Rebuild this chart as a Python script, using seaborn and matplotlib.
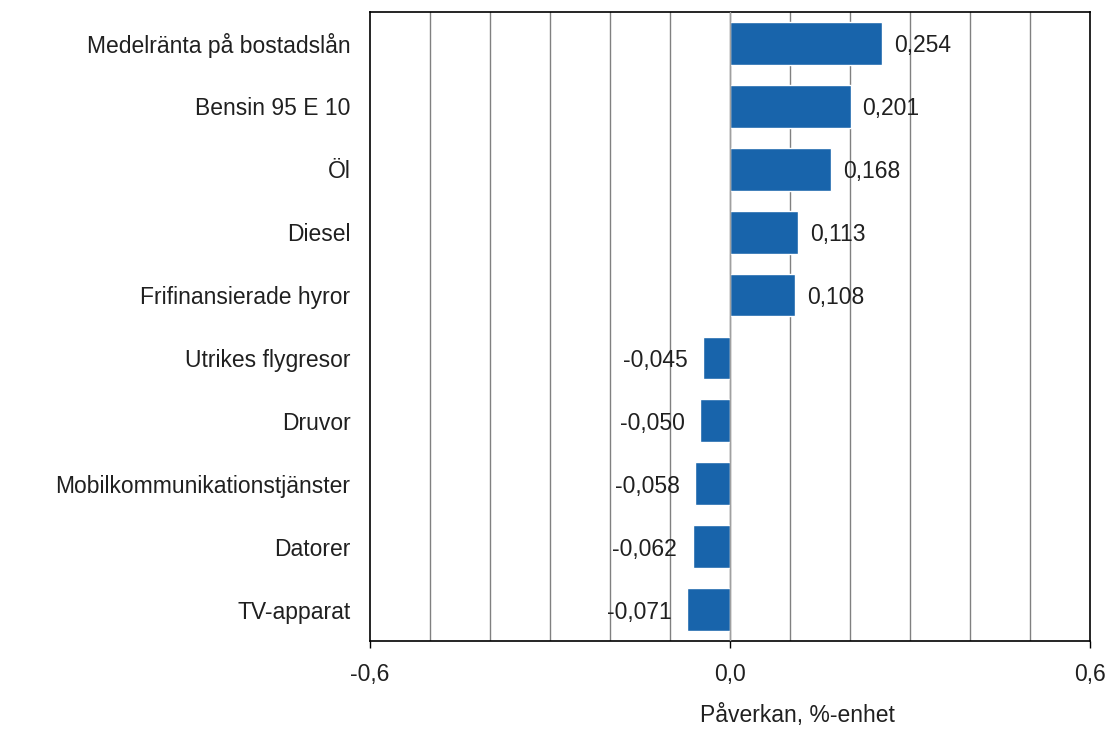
import matplotlib
matplotlib.use("Agg")
import matplotlib.pyplot as plt
import seaborn as sns
import pandas as pd
import numpy as np

categories = ["Medelränta på bostadslån", "Bensin 95 E 10", "Öl", "Diesel",
              "Frifinansierade hyror", "Utrikes flygresor", "Druvor",
              "Mobilkommunikationstjänster", "Datorer", "TV-apparat"]
values = [0.254, 0.201, 0.168, 0.113, 0.108, -0.045, -0.050, -0.058, -0.062, -0.071]
xticks = [-0.6, 0.0, 0.6]
xlabel = "Påverkan, %-enhet"

sns.set_theme(style="white")
plt.rcParams['font.family'] = ['Liberation Sans', 'DejaVu Sans']

FS = 16.5
df = pd.DataFrame({"cat": categories, "val": values})

fig = plt.figure(figsize=(11.06, 7.29), dpi=100)
ax = fig.add_axes([370/1106, 1-641/729, 720/1106, 629/729])

sns.barplot(data=df, x="val", y="cat", orient="h", color="#1864ab",
            saturation=1, width=0.68, ax=ax, zorder=3)

ax.set_xlim(-0.6, 0.6)
ax.set_ylim(9.5, -0.5)
for g in np.arange(-0.5, 0.55, 0.1):
    ax.axvline(g, color="#808080", lw=1.0, zorder=1)
ax.axvline(0, color="#a0a0a0", lw=1.0, zorder=4)

ax.set_xticks(xticks)
ax.set_xticklabels([f"{t:.1f}".replace(".", ",") for t in xticks], fontsize=FS, color="#202020")
ax.tick_params(axis="x", length=5, width=1, color="black", pad=11, direction="out", bottom=True)
ax.tick_params(axis="y", length=0, pad=14, labelsize=FS, labelcolor="#202020")

for s in ax.spines.values():
    s.set_color("black")
    s.set_linewidth(1.2)

for i, v in enumerate(values):
    txt = f"{v:.3f}".replace(".", ",")
    if v >= 0:
        ax.text(v + 0.020, i, txt, ha="left", va="center_baseline", fontsize=FS, color="#202020", zorder=5)
    else:
        ax.text(v - 0.026, i, txt, ha="right", va="center_baseline", fontsize=FS, color="#202020", zorder=5)

ax.set_ylabel("")
ax.set_xlabel(xlabel, fontsize=FS, color="#202020")
ax.xaxis.set_label_coords(0.593, -0.1)

fig.savefig("out.png", dpi=100)
